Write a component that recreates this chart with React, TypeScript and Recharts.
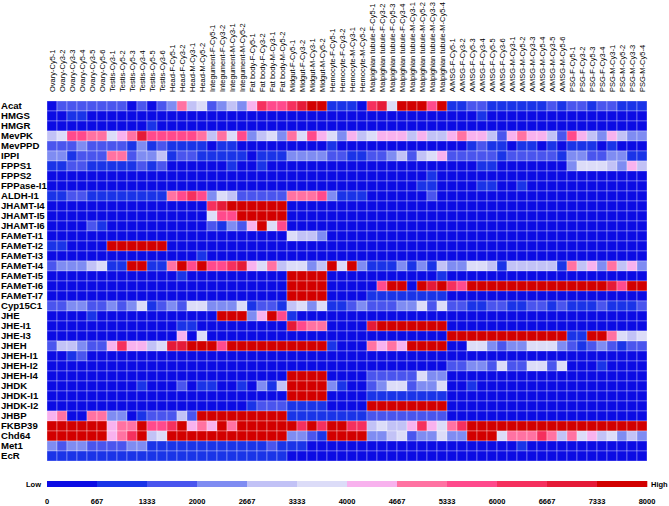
import React from "react"
import { ScatterChart, Scatter, XAxis, YAxis } from "recharts"

const samples = [
  "Ovary-Cy5-1", "Ovary-Cy3-2", "Ovary-Cy3-3", "Ovary-Cy5-4", "Ovary-Cy3-5", "Ovary-Cy5-6",
  "Testis-Cy3-1", "Testis-Cy5-2", "Testis-Cy5-3", "Testis-Cy3-4", "Testis-Cy5-5", "Testis-Cy3-6",
  "Head-F-Cy5-1", "Head-F-Cy3-2", "Head-M-Cy3-1", "Head-M-Cy5-2",
  "Integument-F-Cy5-1", "Integument-F-Cy3-2", "Integument-M-Cy3-1", "Integument-M-Cy5-2",
  "Fat body-F-Cy5-1", "Fat body-F-Cy3-2", "Fat body-M-Cy3-1", "Fat body-M-Cy5-2",
  "Midgut-F-Cy5-1", "Midgut-F-Cy3-2", "Midgut-M-Cy3-1", "Midgut-M-Cy5-2",
  "Hemocyte-F-Cy5-1", "Hemocyte-F-Cy3-2", "Hemocyte-M-Cy3-1", "Hemocyte-M-Cy5-2",
  "Malpighian tubule-F-Cy5-1", "Malpighian tubule-F-Cy3-2", "Malpighian tubule-F-Cy5-3", "Malpighian tubule-F-Cy3-4",
  "Malpighian tubule-M-Cy3-1", "Malpighian tubule-M-Cy5-2", "Malpighian tubule-M-Cy3-3", "Malpighian tubule-M-Cy5-4",
  "A/MSG-F-Cy5-1", "A/MSG-F-Cy3-2", "A/MSG-F-Cy5-3", "A/MSG-F-Cy3-4", "A/MSG-F-Cy5-5", "A/MSG-F-Cy3-6",
  "A/MSG-M-Cy3-1", "A/MSG-M-Cy5-2", "A/MSG-M-Cy3-3", "A/MSG-M-Cy5-4", "A/MSG-M-Cy3-5", "A/MSG-M-Cy5-6",
  "PSG-F-Cy5-1", "PSG-F-Cy3-2", "PSG-F-Cy5-3", "PSG-F-Cy3-4", "PSG-M-Cy3-1", "PSG-M-Cy5-2", "PSG-M-Cy3-3", "PSG-M-Cy5-4",
]

const genes = [
  "Acat", "HMGS", "HMGR", "MevPK", "MevPPD", "IPPI", "FPPS1", "FPPS2", "FPPase-I1", "ALDH-I1",
  "JHAMT-I4", "JHAMT-I5", "JHAMT-I6", "FAMeT-I1", "FAMeT-I2", "FAMeT-I3", "FAMeT-I4", "FAMeT-I5",
  "FAMeT-I6", "FAMeT-I7", "Cyp15C1", "JHE", "JHE-I1", "JHE-I3", "JHEH", "JHEH-I1", "JHEH-I2",
  "JHEH-I4", "JHDK", "JHDK-I1", "JHDK-I2", "JHBP", "FKBP39", "Chd64", "Met1", "EcR",
]

// one array per gene, columns in the order of `samples`
// ovary(6) testis(6) head(4) integument(4) fat body(4) midgut(4) hemocyte(4) malpighian(8) a/msg(12) psg(8)
const acat = [
  300, 1700, 1700, 1700, 1700, 1700,
  1700, 1700, 300, 1700, 300, 1700,
  2300, 5000, 3000, 3700,
  1700, 2300, 3000, 2300,
  4300, 6300, 5700, 5700,
  6300, 7000, 7700, 7700,
  1000, 1000, 1000, 300,
  6300, 7000, 3700, 7700, 7700, 7700, 5700, 7700,
  1000, 1000, 1700, 1700, 1000, 1000, 1000, 1000, 1000, 1000, 1700, 1000,
  1700, 1700, 1000, 1700, 1700, 1000, 1000, 1000,
]
const hmgs = [
  300, 300, 1000, 1000, 300, 300,
  300, 300, 300, 300, 300, 300,
  300, 300, 300, 300,
  300, 300, 300, 300,
  300, 300, 300, 300,
  300, 300, 300, 300,
  300, 300, 300, 300,
  300, 300, 300, 300, 300, 300, 300, 300,
  300, 300, 300, 1000, 300, 300, 300, 300, 300, 300, 300, 300,
  300, 300, 300, 300, 300, 300, 300, 300,
]
const hmgr = [
  300, 300, 300, 300, 300, 300,
  300, 300, 300, 300, 1000, 300,
  300, 300, 300, 300,
  300, 300, 300, 300,
  300, 300, 300, 300,
  300, 300, 300, 300,
  300, 300, 300, 300,
  300, 300, 300, 300, 300, 300, 300, 300,
  300, 300, 300, 300, 300, 300, 300, 300, 300, 300, 300, 300,
  300, 300, 300, 300, 300, 300, 300, 300,
]
const mevpk = [
  3000, 3700, 5700, 5700, 5000, 5000,
  3700, 4300, 5000, 7000, 5700, 5700,
  5700, 5700, 5700, 5000,
  3000, 5000, 3700, 5700,
  2300, 3000, 3700, 2300,
  5000, 3700, 5700, 4300,
  3700, 2300, 4300, 3000,
  3700, 4300, 4300, 4300, 3000, 4300, 3000, 3000,
  4300, 5000, 4300, 4300, 3000, 1700, 4300, 5000, 4300, 4300, 3000, 1700,
  5700, 4300, 3000, 2300, 4300, 3000, 2300, 2300,
]
const mevppd = [
  1700, 1700, 1700, 2300, 1700, 1700,
  1700, 1700, 1000, 2300, 1000, 1700,
  1000, 1000, 1000, 1000,
  300, 1000, 1000, 300,
  300, 300, 300, 300,
  300, 300, 300, 300,
  1000, 300, 300, 300,
  300, 300, 300, 300, 300, 300, 300, 300,
  300, 300, 1000, 1700, 1000, 1000, 300, 1000, 1000, 300, 1000, 300,
  1000, 1000, 1000, 300, 1000, 300, 300, 300,
]
const ippi = [
  2300, 2300, 1000, 1700, 1700, 1700,
  5000, 5000, 1700, 2300, 2300, 3000,
  1000, 1700, 1700, 1000,
  1000, 1000, 1000, 1000,
  300, 1000, 1000, 1000,
  2300, 2300, 2300, 2300,
  1700, 1700, 1000, 1000,
  1700, 1700, 2300, 3000, 1700, 3000, 3700, 4300,
  1700, 1700, 1700, 1700, 1700, 1000, 1700, 1700, 1700, 1700, 1700, 1000,
  2300, 2300, 1700, 1700, 2300, 2300, 1000, 1000,
]
const fpps1 = [
  1000, 1000, 1700, 1700, 1000, 1000,
  1000, 1000, 1000, 1700, 1000, 1700,
  300, 300, 300, 300,
  300, 300, 1000, 300,
  300, 1000, 300, 300,
  300, 300, 300, 300,
  300, 300, 300, 300,
  300, 300, 300, 300, 300, 300, 300, 300,
  300, 300, 300, 1000, 1000, 300, 300, 300, 300, 300, 300, 300,
  2300, 3700, 3700, 3700, 3000, 2300, 4300, 3000,
]
const fpps2 = [
  300, 300, 300, 300, 300, 300,
  300, 300, 300, 300, 300, 300,
  300, 300, 300, 300,
  300, 300, 300, 300,
  300, 300, 300, 300,
  300, 300, 300, 300,
  300, 300, 300, 300,
  300, 300, 300, 300, 300, 300, 1000, 300,
  300, 300, 300, 300, 300, 300, 300, 300, 300, 300, 300, 300,
  300, 300, 300, 300, 300, 300, 300, 300,
]
const fppase = [
  300, 300, 300, 300, 300, 300,
  300, 300, 300, 300, 300, 300,
  300, 300, 300, 300,
  300, 300, 300, 300,
  300, 300, 300, 300,
  300, 300, 300, 300,
  300, 300, 300, 300,
  300, 300, 300, 300, 300, 1000, 1000, 300,
  300, 300, 300, 1000, 1000, 300, 300, 1000, 300, 300, 300, 300,
  300, 300, 300, 300, 300, 300, 300, 300,
]
const aldh = [
  1000, 1000, 1700, 1700, 1000, 1000,
  1000, 1000, 1000, 1000, 1000, 1000,
  5000, 5700, 6300, 5700,
  2300, 3700, 3000, 1700,
  1700, 1700, 1700, 1700,
  5000, 5000, 5000, 5700,
  2300, 1000, 1000, 1000,
  300, 300, 300, 300, 300, 300, 1700, 300,
  300, 300, 300, 300, 300, 300, 300, 300, 300, 300, 300, 300,
  300, 300, 300, 300, 300, 300, 300, 300,
]
const jhamt4 = [
  300, 300, 300, 300, 300, 300,
  300, 300, 300, 300, 300, 300,
  300, 300, 300, 300,
  6300, 7000, 7700, 7700,
  7700, 7700, 7700, 7700,
  300, 300, 300, 300,
  300, 300, 300, 300,
  300, 300, 300, 300, 300, 300, 300, 300,
  300, 300, 300, 300, 300, 300, 300, 300, 300, 300, 300, 300,
  300, 300, 300, 300, 300, 300, 300, 300,
]
const jhamt5 = [
  300, 300, 300, 300, 300, 300,
  300, 300, 300, 300, 300, 300,
  300, 300, 300, 300,
  3700, 5700, 5700, 7700,
  7700, 7700, 7700, 7700,
  300, 300, 300, 300,
  300, 300, 300, 300,
  300, 300, 300, 300, 300, 300, 300, 300,
  300, 300, 300, 300, 300, 300, 300, 300, 300, 300, 300, 300,
  300, 300, 300, 300, 300, 300, 300, 300,
]
const jhamt6 = [
  300, 300, 300, 300, 1700, 1000,
  300, 300, 300, 300, 300, 300,
  300, 300, 300, 300,
  1700, 1000, 2300, 1700,
  4300, 7700, 3700, 5700,
  300, 300, 300, 300,
  300, 300, 300, 300,
  300, 300, 300, 300, 300, 300, 300, 300,
  300, 300, 300, 300, 300, 300, 300, 300, 300, 300, 300, 300,
  300, 300, 300, 300, 300, 300, 300, 300,
]
const famet1 = [
  300, 300, 300, 300, 300, 300,
  300, 300, 300, 300, 300, 300,
  300, 300, 300, 300,
  300, 300, 300, 300,
  300, 300, 300, 300,
  3700, 3000, 3000, 2300,
  300, 300, 300, 300,
  300, 300, 300, 300, 300, 300, 300, 300,
  300, 300, 300, 300, 300, 300, 300, 300, 300, 300, 300, 300,
  300, 300, 300, 300, 300, 300, 300, 300,
]
const famet2 = [
  1000, 1000, 300, 300, 300, 300,
  7700, 7700, 7700, 7700, 7700, 7700,
  300, 300, 300, 300,
  300, 300, 300, 300,
  300, 300, 300, 300,
  300, 300, 300, 300,
  300, 300, 300, 300,
  300, 300, 300, 300, 300, 300, 300, 300,
  300, 300, 300, 300, 300, 300, 300, 300, 300, 300, 300, 300,
  300, 300, 300, 300, 300, 300, 300, 300,
]
const famet3 = [
  300, 300, 300, 300, 300, 300,
  300, 300, 300, 300, 300, 300,
  300, 300, 300, 1000,
  300, 300, 300, 300,
  300, 300, 300, 300,
  300, 300, 300, 300,
  300, 300, 300, 300,
  300, 300, 300, 300, 300, 300, 300, 300,
  300, 300, 300, 300, 300, 300, 300, 300, 300, 300, 300, 300,
  300, 300, 300, 300, 300, 300, 300, 300,
]
const famet4 = [
  1700, 2300, 2300, 2300, 3000, 3700,
  1000, 1000, 7700, 7700, 1000, 1000,
  5000, 7700, 5700, 7700,
  5700, 5700, 6300, 7000,
  4300, 3700, 5000, 3000,
  3700, 3700, 2300, 3000,
  7700, 3700, 7700, 2300,
  1000, 1000, 1000, 2300, 1000, 2300, 1000, 3000,
  2300, 2300, 3700, 3700, 3000, 1000, 3000, 3000, 3000, 3000, 3000, 1000,
  5000, 3000, 4300, 2300, 5000, 3000, 4300, 2300,
]
const famet5 = [
  300, 300, 300, 300, 300, 300,
  300, 300, 300, 300, 300, 300,
  300, 1000, 300, 300,
  300, 300, 300, 300,
  300, 300, 300, 300,
  7700, 7700, 7700, 7700,
  300, 300, 300, 300,
  300, 300, 300, 300, 300, 300, 300, 1000,
  300, 300, 300, 300, 300, 300, 300, 300, 300, 300, 300, 300,
  300, 300, 300, 300, 300, 300, 300, 300,
]
const famet6 = [
  300, 300, 300, 300, 300, 300,
  300, 300, 300, 300, 300, 300,
  300, 300, 300, 300,
  300, 300, 300, 300,
  300, 300, 300, 300,
  7700, 7700, 7700, 7700,
  300, 300, 300, 300,
  300, 5700, 7700, 7700, 300, 7700, 7000, 7700,
  6300, 5700, 7700, 7700, 7700, 7700, 7700, 7700, 7700, 7700, 7700, 7700,
  7700, 7700, 7700, 7700, 7000, 5700, 7700, 7700,
]
const famet7 = [
  300, 300, 300, 300, 300, 300,
  300, 300, 300, 300, 300, 300,
  300, 300, 300, 300,
  300, 300, 300, 300,
  300, 300, 300, 300,
  7700, 7700, 7700, 7700,
  300, 300, 300, 300,
  1000, 1000, 1000, 1000, 1000, 1000, 1000, 1000,
  300, 300, 300, 300, 300, 300, 300, 300, 300, 300, 300, 300,
  300, 300, 300, 300, 300, 300, 300, 300,
]
const cyp15c1 = [
  1700, 1700, 2300, 2300, 1700, 1700,
  2300, 1700, 2300, 3700, 1000, 1700,
  2300, 1700, 3700, 3700,
  2300, 2300, 2300, 3700,
  1000, 1700, 1700, 1000,
  3000, 3700, 2300, 3700,
  1000, 1000, 1700, 2300,
  1700, 1700, 1700, 2300, 2300, 3700, 1700, 3700,
  1700, 1700, 1000, 1000, 1700, 1700, 1000, 1000, 1700, 1700, 1000, 1700,
  1000, 1000, 1000, 1700, 1000, 1000, 1000, 1700,
]
const jhe = [
  300, 300, 300, 300, 1000, 300,
  300, 300, 300, 300, 300, 300,
  300, 300, 300, 300,
  300, 7700, 7700, 7700,
  2300, 4300, 7700, 5700,
  1000, 300, 300, 300,
  300, 300, 300, 300,
  300, 300, 300, 300, 300, 300, 300, 300,
  300, 300, 300, 300, 300, 300, 300, 300, 300, 300, 300, 300,
  300, 300, 300, 300, 300, 300, 300, 300,
]
const jhe1 = [
  300, 300, 300, 300, 300, 300,
  300, 300, 300, 300, 300, 300,
  300, 1000, 1000, 300,
  300, 300, 300, 300,
  300, 300, 300, 300,
  7000, 5700, 5000, 5000,
  300, 300, 300, 300,
  7000, 7700, 7700, 7700, 7700, 7700, 7700, 7700,
  300, 300, 300, 300, 300, 300, 300, 300, 300, 300, 300, 300,
  300, 300, 300, 300, 300, 300, 300, 300,
]
const jhe3 = [
  300, 300, 300, 300, 300, 300,
  300, 300, 300, 300, 300, 300,
  300, 4300, 300, 3700,
  300, 300, 300, 300,
  300, 300, 300, 300,
  300, 300, 300, 300,
  300, 300, 300, 300,
  300, 300, 300, 300, 300, 300, 300, 300,
  7700, 7700, 7700, 7700, 7700, 7700, 7700, 7700, 7700, 7700, 7700, 7700,
  1000, 1000, 7700, 7700, 5000, 3700, 3000, 3700,
]
const jheh = [
  1700, 3000, 3000, 2300, 1700, 1700,
  4300, 6300, 4300, 4300, 3000, 3700,
  7000, 7000, 7700, 7700,
  7700, 5700, 7700, 7700,
  7700, 7700, 7700, 7700,
  7700, 7700, 7700, 7700,
  1000, 300, 300, 300,
  5000, 4300, 5000, 4300, 7700, 7700, 7700, 7700,
  300, 300, 3700, 3700, 2300, 1700, 2300, 2300, 3700, 3700, 3700, 2300,
  1700, 1000, 1700, 2300, 1700, 1000, 1700, 1700,
]
const jheh1 = [
  300, 300, 1000, 1700, 300, 300,
  300, 300, 300, 300, 300, 300,
  300, 300, 300, 300,
  300, 300, 300, 300,
  300, 300, 300, 300,
  300, 300, 300, 300,
  300, 300, 300, 300,
  300, 300, 300, 300, 300, 300, 300, 300,
  300, 300, 300, 300, 300, 300, 300, 300, 300, 300, 300, 300,
  300, 300, 300, 300, 300, 300, 300, 300,
]
const jheh2 = [
  300, 300, 300, 300, 300, 300,
  300, 300, 300, 300, 300, 300,
  300, 300, 300, 300,
  300, 300, 300, 300,
  300, 300, 300, 300,
  300, 300, 300, 300,
  300, 300, 300, 300,
  300, 300, 300, 300, 300, 300, 300, 300,
  1700, 1700, 2300, 2300, 1700, 3700, 1700, 1700, 3700, 3700, 1700, 3700,
  300, 300, 300, 1000, 300, 300, 300, 300,
]
const jheh4 = [
  300, 300, 300, 300, 300, 300,
  300, 300, 300, 300, 300, 300,
  300, 300, 300, 300,
  300, 300, 300, 300,
  300, 300, 300, 300,
  7700, 7700, 7700, 7700,
  300, 300, 300, 300,
  1700, 1700, 1700, 1700, 1700, 3700, 2300, 2300,
  300, 300, 300, 300, 300, 300, 300, 300, 300, 300, 300, 300,
  300, 300, 300, 300, 300, 300, 300, 300,
]
const jhdk = [
  300, 300, 300, 300, 300, 300,
  300, 300, 300, 1000, 300, 300,
  300, 1700, 300, 1000,
  1000, 300, 300, 1000,
  300, 2300, 1000, 3000,
  7700, 7700, 7700, 7700,
  2300, 1000, 300, 300,
  1700, 2300, 3700, 3700, 1700, 2300, 2300, 3700,
  300, 300, 1000, 300, 300, 300, 300, 300, 300, 300, 300, 300,
  300, 300, 300, 300, 300, 300, 300, 300,
]
const jhdk1 = [
  300, 300, 300, 300, 300, 300,
  300, 300, 300, 300, 300, 300,
  300, 300, 300, 300,
  300, 300, 300, 300,
  300, 300, 300, 300,
  7700, 7700, 7700, 7700,
  300, 300, 300, 300,
  1000, 1000, 1000, 1000, 1000, 1000, 1000, 1000,
  300, 300, 300, 300, 300, 300, 300, 300, 300, 300, 300, 300,
  300, 300, 300, 300, 300, 300, 300, 300,
]
const jhdk2 = [
  300, 300, 300, 300, 300, 300,
  300, 300, 300, 300, 300, 300,
  300, 300, 300, 300,
  300, 300, 300, 300,
  1000, 1700, 1700, 1700,
  1000, 1000, 1000, 1000,
  300, 300, 300, 300,
  7700, 7700, 7700, 7700, 7700, 7700, 7700, 7700,
  300, 300, 300, 300, 300, 300, 300, 300, 300, 300, 300, 300,
  300, 300, 300, 300, 300, 300, 300, 300,
]
const jhbp = [
  4300, 5000, 300, 300, 5000, 5000,
  2300, 2300, 300, 1000, 1700, 1700,
  1700, 3000, 1700, 7700,
  7700, 7700, 7700, 7700,
  7700, 7700, 7700, 7700,
  1000, 1000, 1000, 1000,
  1000, 1000, 1000, 1000,
  1700, 1700, 1700, 1700, 1700, 1700, 1700, 1700,
  300, 300, 300, 300, 300, 300, 300, 300, 300, 300, 300, 300,
  300, 300, 300, 300, 300, 300, 300, 300,
]
const fkbp39 = [
  7700, 7700, 7700, 7700, 7700, 7700,
  4300, 5000, 5000, 7700, 5700, 5700,
  6300, 7700, 4300, 5000,
  4300, 7700, 5000, 7700,
  7700, 7700, 7700, 7700,
  7700, 6300, 7700, 6300,
  7700, 7700, 6300, 6300,
  3000, 3700, 3000, 3000, 4300, 6300, 4300, 3700,
  5000, 6300, 7700, 7700, 7700, 7700, 7700, 7700, 7700, 7700, 7700, 7700,
  7700, 7700, 7700, 7700, 7700, 7700, 7700, 7700,
]
const chd64 = [
  7700, 7700, 7700, 7700, 7700, 7700,
  4300, 5000, 6300, 7700, 3000, 3700,
  7700, 7700, 7700, 7700,
  7700, 7700, 7700, 7700,
  7700, 7700, 7700, 7700,
  2300, 2300, 1700, 1000,
  7700, 7700, 7700, 7700,
  2300, 2300, 3000, 3700, 1700, 2300, 2300, 3700,
  2300, 2300, 7700, 7700, 7700, 3700, 5000, 5000, 5000, 6300, 5000, 3000,
  5000, 3700, 4300, 3000, 3700, 2300, 3000, 2300,
]
const met1 = [
  2300, 1700, 2300, 2300, 1700, 1700,
  1700, 1700, 2300, 2300, 1000, 1000,
  1000, 1000, 1000, 1000,
  1000, 1000, 1000, 1000,
  1000, 1000, 1700, 1000,
  1000, 1000, 300, 300,
  300, 300, 300, 300,
  300, 300, 300, 300, 300, 300, 300, 300,
  300, 300, 300, 300, 300, 300, 300, 1000, 300, 300, 300, 300,
  300, 300, 300, 300, 300, 300, 300, 300,
]
const ecr = [
  1000, 1000, 1000, 1000, 1000, 1000,
  1000, 1000, 1000, 1000, 1000, 1000,
  1000, 1000, 1000, 1000,
  1000, 1000, 1000, 1000,
  1000, 1000, 1000, 1000,
  300, 300, 300, 300,
  300, 300, 300, 300,
  300, 300, 300, 300, 300, 300, 300, 300,
  300, 300, 300, 300, 300, 300, 300, 300, 300, 300, 300, 300,
  300, 300, 300, 300, 300, 300, 300, 300,
]

const expression = [
  acat, hmgs, hmgr, mevpk, mevppd, ippi, fpps1, fpps2, fppase, aldh,
  jhamt4, jhamt5, jhamt6, famet1, famet2, famet3, famet4, famet5,
  famet6, famet7, cyp15c1, jhe, jhe1, jhe3, jheh, jheh1, jheh2,
  jheh4, jhdk, jhdk1, jhdk2, jhbp, fkbp39, chd64, met1, ecr,
]

const legendTicks = [0, 667, 1333, 2000, 2667, 3333, 4000, 4667, 5333, 6000, 6667, 7333, 8000]
const MAX_VALUE = 8000

const palette = [
  "#0c0ce4", "#1a34e8", "#4a55ee", "#7f8cf2", "#c2c2f6", "#dcdcf8",
  "#f8b2ee", "#ff72a2", "#ff4a8c", "#f5305e", "#e51a38", "#d20000",
]

const colorFor = (v: number) =>
  palette[Math.min(palette.length - 1, Math.floor((v / MAX_VALUE) * palette.length))]

const FONT = "'Liberation Sans', Arial, sans-serif"
const CHART_W = 669
const CHART_H = 470
const PLOT_LEFT = 47
const PLOT_TOP = 101
const PLOT_RIGHT = 647
const PLOT_BOTTOM = 461
const CELL_W = (PLOT_RIGHT - PLOT_LEFT) / samples.length
const CELL_H = (PLOT_BOTTOM - PLOT_TOP) / genes.length

const cells = expression.flatMap((row, r) =>
  row.map((v, c) => ({ x: c + 0.5, y: r + 0.5, v }))
)

const xTicks = samples.map((_, i) => i + 0.5)
const yTicks = genes.map((_, i) => i + 0.5)

function HeatCell(props: any) {
  const { cx, cy, payload } = props
  return (
    <rect
      x={cx - CELL_W / 2}
      y={cy - CELL_H / 2}
      width={CELL_W}
      height={CELL_H}
      fill={colorFor(payload.v)}
      stroke="#ffffff"
      strokeOpacity={0.5}
      strokeWidth={0.6}
    />
  )
}

function SampleTick(props: any) {
  const { x, payload } = props
  const label = samples[Math.floor(payload.value)]
  return (
    <text
      transform={`translate(${x + 2.7}, 92) rotate(-90)`}
      textAnchor="start"
      fontSize={7.5}
      fontFamily={FONT}
      fill="#000"
    >
      {label}
    </text>
  )
}

function GeneTick(props: any) {
  const { y, payload } = props
  const label = genes[Math.floor(payload.value)]
  return (
    <text x={1} y={y} dy="0.35em" textAnchor="start" fontSize={9.6} fontWeight="bold" fontFamily={FONT} fill="#000">
      {label}
    </text>
  )
}

function ColorLegend() {
  const segW = (PLOT_RIGHT - PLOT_LEFT) / palette.length
  return (
    <svg width={CHART_W} height={36} style={{ position: "absolute", left: 0, top: CHART_H }}>
      <text x={41} y={14} dy="0.35em" textAnchor="end" fontSize={7.5} fontWeight="bold" fontFamily={FONT}>
        Low
      </text>
      {palette.map((c, i) => (
        <rect key={c} x={PLOT_LEFT + i * segW} y={11} width={segW + 0.3} height={6} fill={c} />
      ))}
      <text x={651} y={14} dy="0.35em" textAnchor="start" fontSize={7.5} fontWeight="bold" fontFamily={FONT}>
        High
      </text>
      {legendTicks.map((t) => (
        <text
          key={t}
          x={PLOT_LEFT + (t / MAX_VALUE) * (PLOT_RIGHT - PLOT_LEFT)}
          y={31}
          dy="0.35em"
          textAnchor="middle"
          fontSize={7.5}
          fontWeight="bold"
          fontFamily={FONT}
        >
          {t}
        </text>
      ))}
    </svg>
  )
}

export default function App() {
  return (
    <div style={{ position: "absolute", left: 0, top: 0, width: CHART_W, height: 506, background: "#fff" }}>
      <ScatterChart
        width={CHART_W}
        height={CHART_H}
        margin={{ top: PLOT_TOP - 90, right: CHART_W - PLOT_RIGHT, bottom: CHART_H - PLOT_BOTTOM, left: 0 }}
      >
        <XAxis
          type="number"
          dataKey="x"
          orientation="top"
          height={90}
          domain={[0, samples.length]}
          ticks={xTicks}
          interval={0}
          tick={<SampleTick />}
          tickLine={false}
          axisLine={false}
          allowDataOverflow
        />
        <YAxis
          type="number"
          dataKey="y"
          width={PLOT_LEFT}
          domain={[0, genes.length]}
          reversed
          ticks={yTicks}
          interval={0}
          tick={<GeneTick />}
          tickLine={false}
          axisLine={false}
          allowDataOverflow
        />
        <Scatter data={cells} shape={(p: any) => <HeatCell {...p} />} isAnimationActive={false} />
      </ScatterChart>
      <ColorLegend />
    </div>
  )
}
